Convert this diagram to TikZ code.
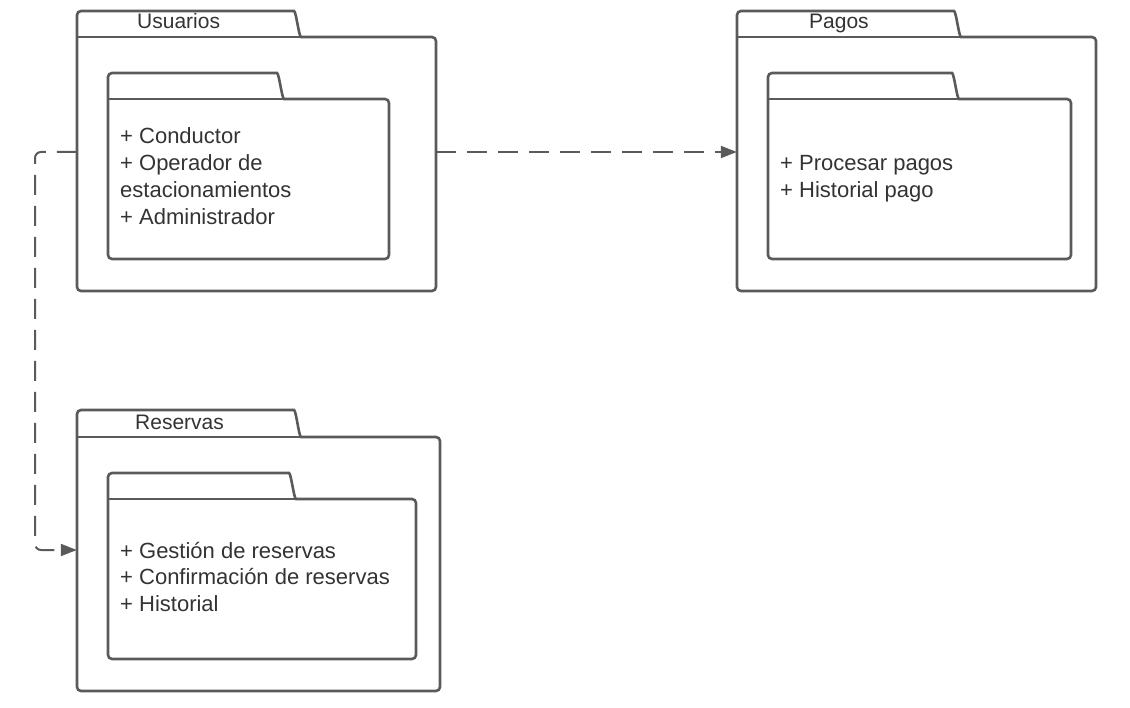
\documentclass[tikz,border=0pt]{standalone}
\usepackage{fontspec}
\setmainfont{Liberation Sans}
\usetikzlibrary{arrows.meta}
\definecolor{linegray}{HTML}{5A5A5A}
\definecolor{textgray}{HTML}{333333}
\tikzset{
  folderline/.style={draw=linegray,line width=2.6pt,rounded corners=4pt},
  dep/.style={draw=linegray,line width=2pt,dash pattern=on 20pt off 11pt,rounded corners=6pt,-{Triangle[length=16pt,width=12pt]}},
  itemtext/.style={anchor=base west,inner sep=0pt,text=textgray,font=\fontsize{22}{26.7}\selectfont},
  titletext/.style={anchor=base west,inner sep=0pt,text=textgray,font=\fontsize{21}{26.7}\selectfont},
  anchorbox/.style={draw=none,inner sep=0pt}
}
% #1 x1, #2 y tab top, #3 tab right (top), #4 y body top, #5 x2, #6 y bottom
\newcommand{\drawfolder}[6]{%
  \draw[folderline] (#1,#4) -- (#1,#2) -- (#3,#2)
     .. controls ({#3+6},#2) and ({#3+9},#4) .. ({#3+15},#4) -- (#5,#4) -- (#5,#6) -- (#1,#6) -- cycle;
  \draw[draw=linegray,line width=2.6pt] (#1,#4) -- ({#3+13},#4);
}
\begin{document}
\begin{tikzpicture}[x=1pt,y=-1pt]
\useasboundingbox (0,0) rectangle (1130,708);
% Usuarios
\drawfolder{77}{11}{290}{37}{436}{291}
\drawfolder{108}{73}{273}{99}{389}{259}
\node[anchorbox,minimum width=359pt,minimum height=254pt] (usu) at (256.5,164) {};
\node[titletext] (usutitle) at (137,29) {Usuarios};
\node[itemtext] (u1) at (120,144) {+ Conductor};
\node[itemtext] (u2) at (120,170.7) {+ Operador de};
\node[itemtext] (u3) at (120,197.4) {estacionamientos};
\node[itemtext] (u4) at (120,224.1) {+ Administrador};
% Pagos
\drawfolder{737}{11}{950}{37}{1096}{291}
\drawfolder{768}{73}{948}{99}{1071}{259}
\node[anchorbox,minimum width=359pt,minimum height=254pt] (pag) at (916.5,164) {};
\node[titletext] (pagtitle) at (809,29) {Pagos};
\node[itemtext] (p1) at (780,171) {+ Procesar pagos};
\node[itemtext] (p2) at (780,197.7) {+ Historial pago};
% Reservas
\drawfolder{77}{410}{290}{437}{440}{691}
\drawfolder{108}{473}{285}{499}{416}{659}
\node[anchorbox,minimum width=363pt,minimum height=254pt] (res) at (258.5,564) {};
\node[titletext] (restitle) at (135,429) {Reservas};
\node[itemtext] (r1) at (120,558) {+ Gestión de reservas};
\node[itemtext] (r2) at (120,584.7) {+ Confirmación de reservas};
\node[itemtext] (r3) at (120,611.4) {+ Historial};
% connectors
\coordinate (bendA) at (35,152);
\coordinate (bendB) at (35,550);
\draw[dep] (usu.east |- 0,152) -- (pag.west |- 0,152);
\draw[dep] (usu.west |- 0,152) -- (bendA) -- (bendB) -- (res.west |- 0,550);
\end{tikzpicture}
\end{document}
